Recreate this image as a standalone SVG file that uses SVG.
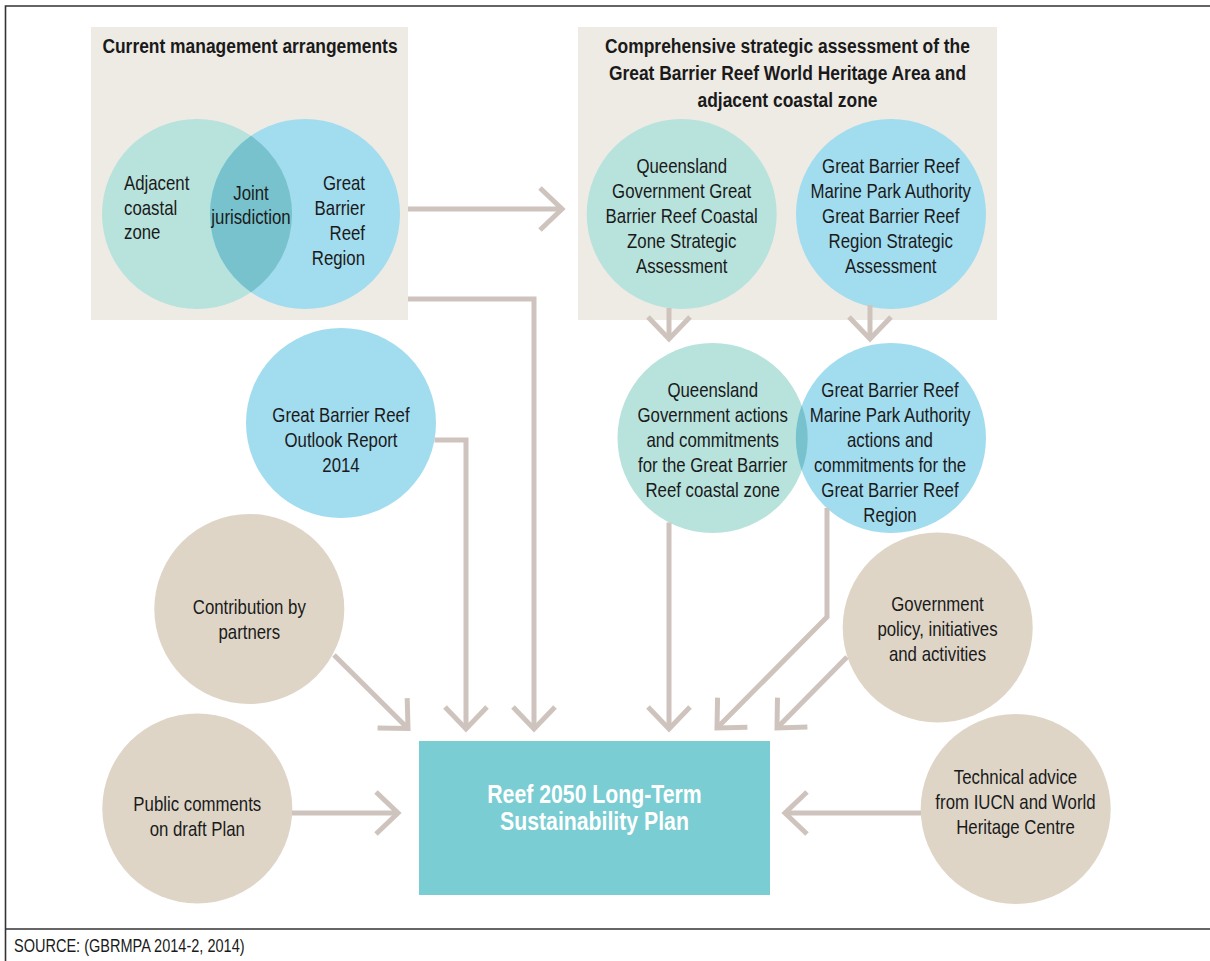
<svg xmlns="http://www.w3.org/2000/svg" width="1210" height="961" viewBox="0 0 1210 961">
<style>
.t{font-family:"Liberation Sans Narrow","Liberation Sans",Arial,sans-serif;font-size:20.5px;fill:#1a1a1a}
.c{text-anchor:middle}
.b{font-weight:bold}
.frame{stroke:#333;stroke-width:1.6;fill:none}
.panel{fill:#eeebe5}
.teal{fill:#b8e2dc}
.blue{fill:#a2dcef}
.ovl{fill:#77c2cc}
.tan{fill:#ded5c7}
.con{fill:none;stroke:#cec4bd;stroke-width:5}
</style>
<defs>
<marker id="ah" markerUnits="userSpaceOnUse" viewBox="-30 -30 40 60" refX="0" refY="0" markerWidth="40" markerHeight="60" orient="auto">
<path d="M-22,-21 L0,0 L-22,21" fill="none" stroke="#cec4bd" stroke-width="5"/>
</marker>
</defs>
<rect width="1210" height="961" fill="#fff"/>
<g id="frame">
<path class="frame" d="M1210,6 H5.5 V961"/>
<path class="frame" d="M5.5,929 H1210"/>
</g>
<g id="current-management">
<rect class="panel" x="91" y="27" width="317" height="293"/>
<text class="t b c" transform="matrix(0.85,0,0,1,37.5,0)" x="250" y="53">Current management arrangements</text>
<circle class="teal" cx="197" cy="214" r="95"/>
<circle class="blue" cx="305" cy="214" r="95"/>
<path class="ovl" d="M251,135.8 A95,95 0 0 1 251,292.2 A95,95 0 0 1 251,135.8 Z"/>
<text class="t" transform="matrix(0.82,0,0,1,22.32,0)" x="124" y="190">Adjacent<tspan x="124" y="215">coastal</tspan><tspan x="124" y="239.5">zone</tspan></text>
<text class="t c" transform="matrix(0.82,0,0,1,45.18,0)" x="251" y="200">Joint<tspan x="251" y="224.5">jurisdiction</tspan></text>
<text class="t" text-anchor="end" transform="matrix(0.82,0,0,1,65.7,0)" x="365" y="190">Great<tspan x="365" y="215">Barrier</tspan><tspan x="365" y="240">Reef</tspan><tspan x="365" y="265">Region</tspan></text>
</g>
<g id="strategic-assessment">
<rect class="panel" x="578" y="27" width="419" height="293"/>
<text class="t b c" transform="matrix(0.85,0,0,1,118.125,0)" x="787.5" y="53">Comprehensive strategic assessment of the<tspan x="787.5" y="80">Great Barrier Reef World Heritage Area and</tspan><tspan x="787.5" y="107">adjacent coastal zone</tspan></text>
</g>
<g id="qld-strategic">
<circle class="teal" cx="681.7" cy="214" r="95"/>
<text class="t c" transform="matrix(0.82,0,0,1,122.706,0)" x="681.7" y="173">Queensland<tspan x="681.7" y="198">Government Great</tspan><tspan x="681.7" y="223">Barrier Reef Coastal</tspan><tspan x="681.7" y="248">Zone Strategic</tspan><tspan x="681.7" y="273">Assessment</tspan></text>
</g>
<g id="gbrmpa-strategic">
<circle class="blue" cx="891" cy="214" r="95"/>
<text class="t c" transform="matrix(0.82,0,0,1,160.326,0)" x="890.7" y="173">Great Barrier Reef<tspan x="890.7" y="198">Marine Park Authority</tspan><tspan x="890.7" y="223">Great Barrier Reef</tspan><tspan x="890.7" y="248">Region Strategic</tspan><tspan x="890.7" y="273">Assessment</tspan></text>
</g>
<g id="outlook-report">
<circle class="blue" cx="341" cy="423" r="95"/>
<text class="t c" transform="matrix(0.82,0,0,1,61.38,0)" x="341" y="422">Great Barrier Reef<tspan x="341" y="447">Outlook Report</tspan><tspan x="341" y="472">2014</tspan></text>
</g>
<g id="qld-actions">
<circle class="teal" cx="712.5" cy="438" r="95"/>
</g>
<g id="gbrmpa-actions">
<circle class="blue" cx="891" cy="438" r="95"/>
<path class="ovl" d="M801.75,405.5 A95,95 0 0 1 801.75,470.5 A95,95 0 0 1 801.75,405.5 Z"/>
<text class="t c" transform="matrix(0.82,0,0,1,128.286,0)" x="712.7" y="397">Queensland<tspan x="712.7" y="422">Government actions</tspan><tspan x="712.7" y="447">and commitments</tspan><tspan x="712.7" y="472">for the Great Barrier</tspan><tspan x="712.7" y="497">Reef coastal zone</tspan></text>
<text class="t c" transform="matrix(0.82,0,0,1,160.2,0)" x="890" y="397">Great Barrier Reef<tspan x="890" y="422">Marine Park Authority</tspan><tspan x="890" y="447">actions and</tspan><tspan x="890" y="472">commitments for the</tspan><tspan x="890" y="497">Great Barrier Reef</tspan><tspan x="890" y="522">Region</tspan></text>
</g>
<g id="contribution-partners">
<circle class="tan" cx="249.3" cy="609" r="95"/>
<text class="t c" transform="matrix(0.82,0,0,1,44.874,0)" x="249.3" y="614">Contribution by<tspan x="249.3" y="639">partners</tspan></text>
</g>
<g id="government-policy">
<circle class="tan" cx="937.7" cy="627.5" r="95"/>
<text class="t c" transform="matrix(0.82,0,0,1,168.75,0)" x="937.5" y="611">Government<tspan x="937.5" y="636">policy, initiatives</tspan><tspan x="937.5" y="661">and activities</tspan></text>
</g>
<g id="public-comments">
<circle class="tan" cx="197.3" cy="808.5" r="95"/>
<text class="t c" transform="matrix(0.82,0,0,1,35.514,0)" x="197.3" y="811">Public comments<tspan x="197.3" y="836">on draft Plan</tspan></text>
</g>
<g id="technical-advice">
<circle class="tan" cx="1015.7" cy="809" r="95"/>
<text class="t c" transform="matrix(0.82,0,0,1,182.79,0)" x="1015.5" y="784">Technical advice<tspan x="1015.5" y="809.5">from IUCN and World</tspan><tspan x="1015.5" y="834.5">Heritage Centre</tspan></text>
</g>
<g id="reef-2050-plan">
<rect x="419" y="741" width="351" height="154" fill="#7acdd2"/>
<text class="t b c" style="font-size:25px;fill:#fff" transform="matrix(0.85,0,0,1,89.175,0)" x="594.5" y="803">Reef 2050 Long-Term<tspan x="594.5" y="830">Sustainability Plan</tspan></text>
</g>
<g id="connectors">
<path class="con" marker-end="url(#ah)" d="M408,209 H562"/>
<path class="con" marker-end="url(#ah)" d="M408,299 H534 V729"/>
<path class="con" marker-end="url(#ah)" d="M434.5,440 H466 V729"/>
<path class="con" marker-end="url(#ah)" d="M669,308 V339"/>
<path class="con" marker-end="url(#ah)" d="M870,305 V339"/>
<path class="con" marker-end="url(#ah)" d="M669,522.5 V729"/>
<path class="con" marker-end="url(#ah)" d="M827,508 V617 L717,728"/>
<path class="con" marker-end="url(#ah)" d="M847,657 L777,728"/>
<path class="con" marker-end="url(#ah)" d="M334,655 L408,728.5"/>
<path class="con" marker-end="url(#ah)" d="M292,813 H398"/>
<path class="con" marker-end="url(#ah)" d="M921,813 H785"/>
</g>
<text class="t" style="font-size:17.5px" transform="matrix(0.83,0,0,1,2.38,0)" x="14" y="952">SOURCE: (GBRMPA 2014-2, 2014)</text>
</svg>
